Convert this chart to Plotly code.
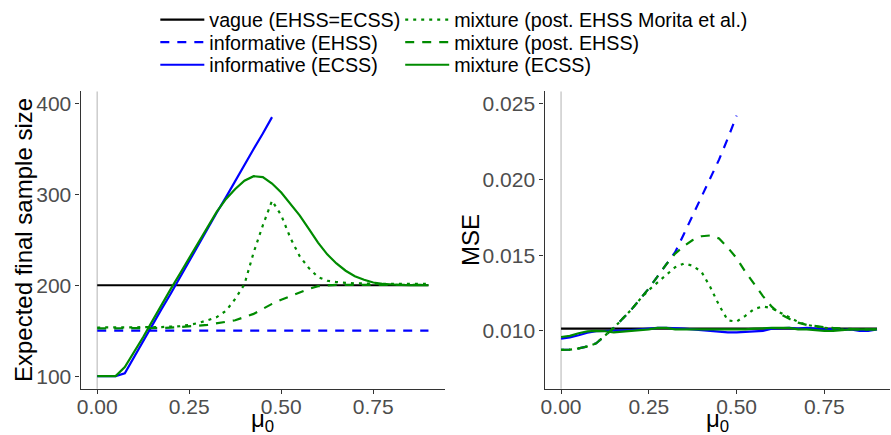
import plotly.graph_objects as go

# ---------------- data ----------------
mu0 = [0.000, 0.025, 0.050, 0.075, 0.100, 0.125, 0.150, 0.175, 0.200, 0.225,
       0.250, 0.275, 0.300, 0.325, 0.350, 0.375, 0.400, 0.425, 0.450, 0.475,
       0.500, 0.525, 0.550, 0.575, 0.600, 0.625, 0.650, 0.675, 0.700, 0.725,
       0.750, 0.775, 0.800, 0.825, 0.850, 0.875, 0.900]
mu0_ends = [0.0, 0.9]
mu0_inf_ecss = mu0[:20]      # informative ECSS stops at 0.475
mu0_inf_ehss_mse = mu0[:21]  # informative EHSS (MSE) stops at 0.5

series_names = ["vague (EHSS=ECSS)", "informative (EHSS)", "informative (ECSS)",
                "mixture (post. EHSS Morita et al.)", "mixture (post. EHSS)",
                "mixture (ECSS)"]

# Expected final sample size
ess_vague = [200, 200]
ess_inf_ehss = [150, 150]
ess_inf_ecss = [100, 100, 100, 103, 121, 138, 156, 174, 191, 209,
                226, 244, 262, 280, 297, 315, 332, 350, 367, 385]
ess_mix_morita = [153.5, 153.5, 153.5, 153.5, 153.5, 153.5, 153.5, 154, 154.5, 155,
                  156.5, 158.5, 161.5, 165, 172, 185, 201, 236, 266, 293,
                  277, 252, 232, 219, 209, 205, 203.5, 202.5, 202, 202,
                  201.5, 201.5, 201.5, 201.5, 201.5, 201.5, 201.5]
ess_mix_post = [152.5, 152.5, 152.5, 152.5, 152.5, 152.5, 152.5, 153, 153.5, 154,
                154.5, 155.5, 156.5, 158, 159.5, 161.5, 165, 168.5, 174, 179.5,
                184, 188, 192, 196, 199, 200, 200.5, 200.5, 200.5, 200.5,
                200.5, 200.5, 200.5, 200.5, 200.5, 200.5, 200.5]
ess_mix_ecss = [100, 100, 100, 110, 126, 143, 161, 179, 196, 213,
                230, 247, 264, 281, 295, 306, 315, 320, 319, 312,
                302, 290, 277, 262, 247, 234, 224, 216, 210, 206,
                203, 201.5, 200.7, 200.3, 200, 200, 200]

# MSE
mse_vague = [0.01015, 0.01015]
mse_inf_ehss = [0.00875, 0.00877, 0.00885, 0.00898, 0.00918, 0.0097, 0.0102, 0.0108, 0.0114, 0.0121,
                0.0128, 0.0136, 0.0144, 0.0152, 0.0164, 0.0176, 0.0188, 0.0200, 0.0213, 0.0227,
                0.0242]
mse_inf_ecss = [0.0095, 0.00958, 0.00972, 0.00988, 0.00998, 0.0100, 0.0100, 0.0100, 0.01005, 0.0101,
                0.01015, 0.0102, 0.0102, 0.0102, 0.01015, 0.0101, 0.01005, 0.00998, 0.00992, 0.0099,
                0.0099, 0.00992, 0.00995, 0.0100, 0.01015, 0.0102, 0.0102, 0.01015, 0.0102, 0.01015,
                0.0101, 0.01012, 0.01008, 0.0101, 0.0100, 0.0100, 0.0101]
mse_mix_morita = [0.00875, 0.00877, 0.00885, 0.00898, 0.00918, 0.0097, 0.0102, 0.0108, 0.0114, 0.0121,
                  0.0127, 0.0132, 0.0137, 0.0142, 0.01445, 0.0143, 0.0139, 0.0129, 0.0117, 0.0107,
                  0.01062, 0.0110, 0.01145, 0.01162, 0.0115, 0.0112, 0.0109, 0.0106, 0.0104, 0.0103,
                  0.0102, 0.01015, 0.0101, 0.0101, 0.0101, 0.0101, 0.0101]
mse_mix_post = [0.00875, 0.00877, 0.00885, 0.00898, 0.00918, 0.0097, 0.0102, 0.0108, 0.0114, 0.0121,
                0.0128, 0.0136, 0.0144, 0.0151, 0.0156, 0.0160, 0.01625, 0.0163, 0.0161, 0.0155,
                0.0148, 0.0139, 0.0131, 0.0123, 0.0116, 0.0111, 0.0108, 0.01055, 0.0104, 0.0103,
                0.01025, 0.0102, 0.01015, 0.0101, 0.0101, 0.0101, 0.0101]
mse_mix_ecss = [0.0096, 0.00968, 0.00985, 0.00997, 0.0100, 0.00998, 0.0099, 0.00995, 0.0100, 0.01005,
                0.0101, 0.0102, 0.0102, 0.0101, 0.0101, 0.0101, 0.0101, 0.0101, 0.0101, 0.0101,
                0.0101, 0.0101, 0.01015, 0.0102, 0.0102, 0.0102, 0.0102, 0.0101, 0.0101, 0.01005,
                0.0100, 0.0100, 0.01005, 0.0101, 0.0101, 0.0101, 0.0101]

x_ticks = [0.0, 0.25, 0.5, 0.75]
ess_ticks = [100, 200, 300, 400]
mse_ticks = [0.010, 0.015, 0.020, 0.025]

# ---------------- styling ----------------
BLUE = "#0000FF"
GREEN = "#008B00"
BLACK = "#000000"
LW = 2.2
DASH = "9px,8px"
DOT = "3px,5px"
styles = [
    dict(color=BLACK, dash="solid"),
    dict(color=BLUE, dash=DASH),
    dict(color=BLUE, dash="solid"),
    dict(color=GREEN, dash=DOT),
    dict(color=GREEN, dash=DASH),
    dict(color=GREEN, dash="solid"),
]
legend_ids = ["legend", "legend2", "legend3", "legend4", "legend5", "legend6"]

left = [(mu0_ends, ess_vague), (mu0_ends, ess_inf_ehss), (mu0_inf_ecss, ess_inf_ecss),
        (mu0, ess_mix_morita), (mu0, ess_mix_post), (mu0, ess_mix_ecss)]
right = [(mu0_ends, mse_vague), (mu0_inf_ehss_mse, mse_inf_ehss), (mu0, mse_inf_ecss),
         (mu0, mse_mix_morita), (mu0, mse_mix_post), (mu0, mse_mix_ecss)]

fig = go.Figure()
for i, (xs, ys) in enumerate(left):
    fig.add_trace(go.Scatter(x=xs, y=ys, mode="lines", name=series_names[i],
                             line=dict(color=styles[i]["color"], dash=styles[i]["dash"], width=LW),
                             xaxis="x", yaxis="y", legend=legend_ids[i], showlegend=True))
for i, (xs, ys) in enumerate(right):
    fig.add_trace(go.Scatter(x=xs, y=ys, mode="lines", name=series_names[i],
                             line=dict(color=styles[i]["color"], dash=styles[i]["dash"], width=LW),
                             xaxis="x2", yaxis="y2", showlegend=False))

W, H = 891, 435
def px_x(p):
    return p / W
def px_y(p):
    return 1 - p / H

FONT = "Liberation Sans, Arial, Helvetica, sans-serif"
TICKFONT = dict(family=FONT, size=21, color="#4D4D4D")
AXCOL = "#333333"

axis_common = dict(showline=True, linecolor=AXCOL, linewidth=1.4, ticks="outside",
                   ticklen=4, tickwidth=1.4, tickcolor=AXCOL, showgrid=False,
                   zeroline=False, tickfont=TICKFONT)

ydom = [px_y(388), px_y(85)]

layout = dict(
    width=W, height=H, autosize=False,
    margin=dict(l=0, r=0, t=0, b=0),
    paper_bgcolor="white", plot_bgcolor="white",
    font=dict(family=FONT),
    xaxis=dict(domain=[px_x(77), px_x(443)], range=[-0.045, 0.945], anchor="y",
               tickvals=x_ticks, tickformat=".2f", ticklabelstandoff=-5, **axis_common),
    yaxis=dict(domain=ydom, range=[86, 413.3], anchor="x",
               tickvals=ess_ticks, **axis_common),
    xaxis2=dict(domain=[px_x(543), px_x(890)], range=[-0.047, 0.937], anchor="y2",
                tickvals=x_ticks, tickformat=".2f", ticklabelstandoff=-5, **axis_common),
    yaxis2=dict(domain=ydom, range=[0.00618, 0.0258], anchor="x2",
                tickvals=mse_ticks, tickformat=".3f", **axis_common),
    shapes=[
        dict(type="line", xref="x", yref="y domain", x0=0, x1=0, y0=0, y1=1,
             line=dict(color="#CCCCCC", width=1.5), layer="below"),
        dict(type="line", xref="x2", yref="y2 domain", x0=0, x1=0, y0=0, y1=1,
             line=dict(color="#CCCCCC", width=1.5), layer="below"),
    ],
    annotations=[
        dict(text="Expected final sample size", x=px_x(19), y=px_y(236.5), xref="paper", yref="paper",
             textangle=-90, showarrow=False, xanchor="center", yanchor="middle",
             font=dict(family=FONT, size=24, color="black")),
        dict(text="MSE", x=px_x(468), y=px_y(236.5), xref="paper", yref="paper",
             textangle=-90, showarrow=False, xanchor="center", yanchor="middle",
             font=dict(family=FONT, size=24, color="black")),
        dict(text="μ<sub>0</sub>", x=px_x(260), y=px_y(420), xref="paper", yref="paper",
             showarrow=False, xanchor="center", yanchor="middle",
             font=dict(family=FONT, size=24, color="black")),
        dict(text="μ<sub>0</sub>", x=px_x(716.5), y=px_y(420), xref="paper", yref="paper",
             showarrow=False, xanchor="center", yanchor="middle",
             font=dict(family=FONT, size=24, color="black")),
    ],
)

leg_x = [152, 152, 152, 398, 398, 398]
leg_y = [12, 35, 58, 12, 35, 58]
for lid, lx, ly in zip(legend_ids, leg_x, leg_y):
    layout[lid] = dict(x=px_x(lx), y=px_y(ly), xanchor="left", yanchor="middle",
                       xref="paper", yref="paper", orientation="v",
                       bgcolor="rgba(0,0,0,0)", borderwidth=0, itemwidth=44,
                       font=dict(family=FONT, size=19.7, color="black"))

fig.update_layout(**layout)
fig.write_html("out.html")
